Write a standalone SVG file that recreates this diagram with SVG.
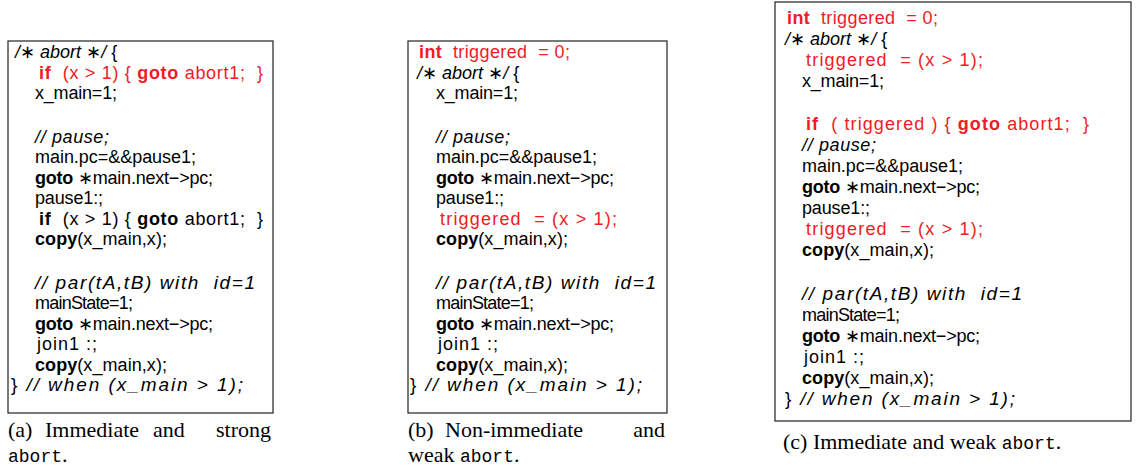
<svg xmlns="http://www.w3.org/2000/svg" width="1137" height="474" viewBox="0 0 1137 474">
<style>
.box{fill:#fff;stroke:#222;stroke-width:1.2}
.c{font-family:"Liberation Sans","DejaVu Sans",sans-serif;font-size:18px;fill:#000;white-space:pre}
.w{font-size:19px}
.b{font-weight:bold}
.i{font-style:italic}
.r{fill:#ee1c25}
.cap{font-family:"Liberation Serif","DejaVu Serif",serif;font-size:22px;fill:#000}
.tt{font-family:"Liberation Mono","DejaVu Sans Mono",monospace;font-size:18px}
</style>
<rect width="1137" height="474" fill="#fff"/>

<g id="panel-a">
<rect class="box" x="8" y="41" width="265" height="372"/>
<text class="c" x="15" y="58.3"><tspan class="i">/∗ abort ∗/</tspan> {</text>
<text class="c r" x="39" y="78.7" textLength="224" lengthAdjust="spacing"><tspan class="b">if</tspan>  (x &gt; 1) { <tspan class="b">goto</tspan> abort1;  }</text>
<text class="c" x="35" y="99.1" textLength="82" lengthAdjust="spacing">x_main=1;</text>
<text class="c i" x="35" y="143" textLength="74" lengthAdjust="spacing">// pause;</text>
<text class="c" x="35" y="163.4" textLength="161" lengthAdjust="spacing">main.pc=&amp;&amp;pause1;</text>
<text class="c" x="35" y="183.8" textLength="178" lengthAdjust="spacing"><tspan class="b">goto</tspan> ∗main.next−&gt;pc;</text>
<text class="c" x="35" y="204.2" textLength="68" lengthAdjust="spacing">pause1:;</text>
<text class="c" x="39" y="224.6" textLength="224" lengthAdjust="spacing"><tspan class="b">if</tspan>  (x &gt; 1) { <tspan class="b">goto</tspan> abort1;  }</text>
<text class="c" x="35" y="245" textLength="132" lengthAdjust="spacing"><tspan class="b">copy</tspan>(x_main,x);</text>
<text class="c w i" x="35" y="289" textLength="220" lengthAdjust="spacing">// par(tA,tB) with  id=1</text>
<text class="c" x="35" y="309.4" textLength="98" lengthAdjust="spacing">mainState=1;</text>
<text class="c" x="35" y="329.8" textLength="178" lengthAdjust="spacing"><tspan class="b">goto</tspan> ∗main.next−&gt;pc;</text>
<text class="c" x="37" y="350.2" textLength="60" lengthAdjust="spacing">join1 :;</text>
<text class="c" x="35" y="370.6" textLength="132" lengthAdjust="spacing"><tspan class="b">copy</tspan>(x_main,x);</text>
<text class="c w" x="11" y="391" textLength="232" lengthAdjust="spacing">} <tspan class="i">// when (x_main &gt; 1);</tspan></text>
<text class="cap" x="8" y="437">(a)</text>
<text class="cap" x="45" y="437">Immediate</text>
<text class="cap" x="153" y="437">and</text>
<text class="cap" x="271" y="437" text-anchor="end">strong</text>
<text class="cap" x="8" y="462"><tspan class="tt">abort</tspan>.</text>
</g>

<g id="panel-b">
<rect class="box" x="408" y="41" width="259" height="372"/>
<text class="c r" x="419" y="58.3" textLength="151" lengthAdjust="spacing"><tspan class="b">int</tspan>  triggered  = 0;</text>
<text class="c" x="417" y="78.7"><tspan class="i">/∗ abort ∗/</tspan> {</text>
<text class="c" x="436" y="99.1" textLength="82" lengthAdjust="spacing">x_main=1;</text>
<text class="c i" x="436" y="143" textLength="74" lengthAdjust="spacing">// pause;</text>
<text class="c" x="436" y="163.4" textLength="161" lengthAdjust="spacing">main.pc=&amp;&amp;pause1;</text>
<text class="c" x="436" y="183.8" textLength="178" lengthAdjust="spacing"><tspan class="b">goto</tspan> ∗main.next−&gt;pc;</text>
<text class="c" x="436" y="204.2" textLength="68" lengthAdjust="spacing">pause1:;</text>
<text class="c r" x="440" y="224.6" textLength="177" lengthAdjust="spacing">triggered  = (x &gt; 1);</text>
<text class="c" x="436" y="245" textLength="132" lengthAdjust="spacing"><tspan class="b">copy</tspan>(x_main,x);</text>
<text class="c w i" x="436" y="289" textLength="220" lengthAdjust="spacing">// par(tA,tB) with  id=1</text>
<text class="c" x="436" y="309.4" textLength="98" lengthAdjust="spacing">mainState=1;</text>
<text class="c" x="436" y="329.8" textLength="178" lengthAdjust="spacing"><tspan class="b">goto</tspan> ∗main.next−&gt;pc;</text>
<text class="c" x="438" y="350.2" textLength="60" lengthAdjust="spacing">join1 :;</text>
<text class="c" x="436" y="370.6" textLength="132" lengthAdjust="spacing"><tspan class="b">copy</tspan>(x_main,x);</text>
<text class="c w" x="410" y="391" textLength="232" lengthAdjust="spacing">} <tspan class="i">// when (x_main &gt; 1);</tspan></text>
<text class="cap" x="408" y="437">(b)</text>
<text class="cap" x="445" y="437">Non-immediate</text>
<text class="cap" x="665" y="437" text-anchor="end">and</text>
<text class="cap" x="408" y="462">weak <tspan class="tt">abort</tspan>.</text>
</g>

<g id="panel-c">
<rect class="box" x="775" y="2" width="356" height="419"/>
<text class="c r" x="787" y="24" textLength="151" lengthAdjust="spacing"><tspan class="b">int</tspan>  triggered  = 0;</text>
<text class="c" x="785" y="45"><tspan class="i">/∗ abort ∗/</tspan> {</text>
<text class="c r" x="806" y="66.1" textLength="177" lengthAdjust="spacing">triggered  = (x &gt; 1);</text>
<text class="c" x="802" y="87.2" textLength="82" lengthAdjust="spacing">x_main=1;</text>
<text class="c r" x="806" y="130" textLength="283" lengthAdjust="spacing"><tspan class="b">if</tspan>  ( triggered ) { <tspan class="b">goto</tspan> abort1;  }</text>
<text class="c i" x="802" y="151.1" textLength="74" lengthAdjust="spacing">// pause;</text>
<text class="c" x="802" y="172.1" textLength="161" lengthAdjust="spacing">main.pc=&amp;&amp;pause1;</text>
<text class="c" x="802" y="193.2" textLength="178" lengthAdjust="spacing"><tspan class="b">goto</tspan> ∗main.next−&gt;pc;</text>
<text class="c" x="802" y="214.2" textLength="68" lengthAdjust="spacing">pause1:;</text>
<text class="c r" x="806" y="235.3" textLength="177" lengthAdjust="spacing">triggered  = (x &gt; 1);</text>
<text class="c" x="802" y="256.3" textLength="132" lengthAdjust="spacing"><tspan class="b">copy</tspan>(x_main,x);</text>
<text class="c w i" x="802" y="299.5" textLength="220" lengthAdjust="spacing">// par(tA,tB) with  id=1</text>
<text class="c" x="802" y="320.6" textLength="98" lengthAdjust="spacing">mainState=1;</text>
<text class="c" x="802" y="341.6" textLength="178" lengthAdjust="spacing"><tspan class="b">goto</tspan> ∗main.next−&gt;pc;</text>
<text class="c" x="804" y="362.7" textLength="60" lengthAdjust="spacing">join1 :;</text>
<text class="c" x="802" y="383.7" textLength="132" lengthAdjust="spacing"><tspan class="b">copy</tspan>(x_main,x);</text>
<text class="c w" x="785" y="404.8" textLength="230" lengthAdjust="spacing">} <tspan class="i">// when (x_main &gt; 1);</tspan></text>
<text class="cap" x="783" y="449">(c) Immediate and weak <tspan class="tt">abort</tspan>.</text>
</g>
</svg>
